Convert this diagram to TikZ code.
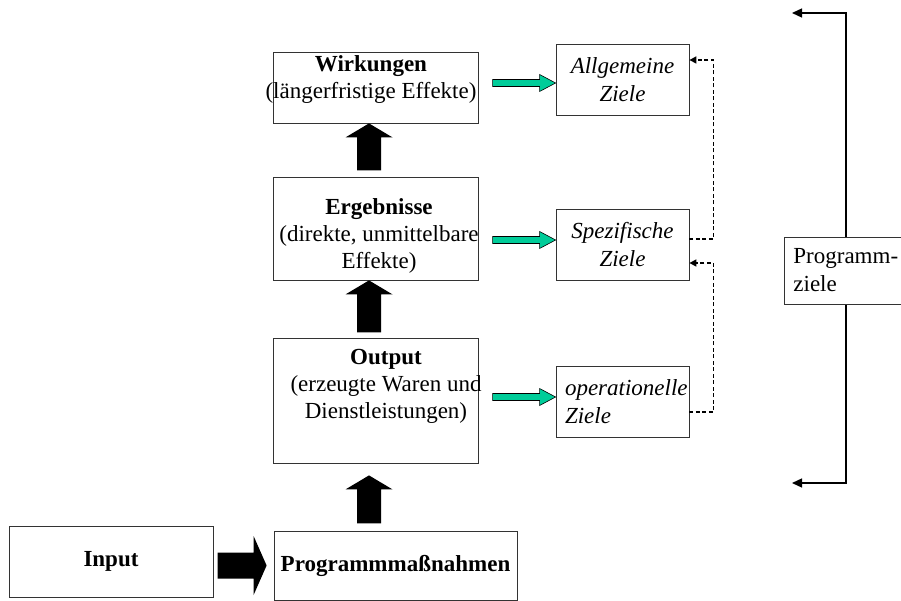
\documentclass[tikz,border=0pt]{standalone}
\usepackage{amsmath, amssymb, tikz, graphicx}
\usepackage{xcolor}
\usepackage{fontspec}
\setmainfont{Liberation Serif}
\usetikzlibrary{arrows.meta}
\definecolor{verde}{RGB}{0,204,153}

\begin{document}
\begin{tikzpicture}[x=1pt, y=-1pt,
    caja/.style={draw=black!80, line width=0.8pt, fill=white, inner sep=0pt},
    texto/.style={align=center, font=\fontsize{23}{27}\selectfont},
    ziel/.style={draw=black!80, line width=0.8pt, fill=white, minimum height=71pt, text width=115pt,
        inner xsep=9pt, inner ysep=0pt, font=\fontsize{23}{28}\selectfont\itshape},
    flecha/.style={fill=black},
    flechaverde/.style={draw=black, line width=0.6pt, fill=verde},
    punteada/.style={line width=1.6pt, dash pattern=on 4pt off 2.5pt, -{Triangle[length=7pt,width=7pt]}}]
    \useasboundingbox (0,0) rectangle (901,601);
    \clip (0,0) rectangle (901,601);

    % Cajas de la cadena
    \node[caja, minimum width=205pt, minimum height=71pt] (wirk) at (375.5,87.5) {};
    \node[caja, minimum width=205pt, minimum height=103pt] (ergeb) at (375.5,228.5) {};
    \node[caja, minimum width=205pt, minimum height=125pt] (outp) at (375.5,400.5) {};
    \node[caja, texto, minimum width=243pt, minimum height=69pt] (progr) at (395.5,565.5) {\bfseries Programmmaßnahmen};
    \node[caja, texto, minimum width=204pt, minimum height=71pt] (input) at (111,561.5) {\bfseries Input};

    % Textos de las cajas
    \node[texto] (wirkT) at (371,80) {\textbf{Wirkungen}\\(längerfristige Effekte)};
    \node[texto] (ergebT) at (379,236) {\textbf{Ergebnisse}\\(direkte, unmittelbare\\Effekte)};
    \node[texto] (outpT) at (386,386.5) {\textbf{Output}\\(erzeugte Waren und\\Dienstleistungen)};

    % Flechas negras
    \fill[flecha] ([xshift=-6.5pt]wirk.south) -- ++(23.5,14) -- ++(-11.5,0) -- ++(0,33) -- ++(-24,0) -- ++(0,-33) -- ++(-11.5,0) -- cycle;
    \fill[flecha] ([xshift=-6.5pt]ergeb.south) -- ++(23.5,14) -- ++(-11.5,0) -- ++(0,38) -- ++(-24,0) -- ++(0,-38) -- ++(-11.5,0) -- cycle;
    \fill[flecha] ([xshift=-6.5pt,yshift=-12pt]outp.south) -- ++(23.5,14) -- ++(-11.5,0) -- ++(0,34) -- ++(-24,0) -- ++(0,-34) -- ++(-11.5,0) -- cycle;
    \fill[flecha] ([xshift=-7pt]progr.west) -- ++(-13,-29.5) -- ++(0,16.5) -- ++(-36,0) -- ++(0,26) -- ++(36,0) -- ++(0,16.5) -- cycle;

    % Cajas de objetivos
    \node[ziel, align=center] (allg) at (622.5,80) {Allgemeine\\Ziele};
    \node[ziel, align=center] (spez) at (622.5,244.5) {Spezifische\\Ziele};
    \node[ziel, align=left] (oper) at (622.5,401.5) {operationelle\\Ziele};

    % Flechas verdes
    \filldraw[flechaverde] ([yshift=-3pt]allg.west) -- ++(-16,-8.5) -- ++(0,5) -- ++(-47,0) -- ++(0,7) -- ++(47,0) -- ++(0,5) -- cycle;
    \filldraw[flechaverde] ([yshift=4.5pt]spez.west) -- ++(-16,-8.5) -- ++(0,5) -- ++(-47,0) -- ++(0,7) -- ++(47,0) -- ++(0,5) -- cycle;
    \filldraw[flechaverde] ([yshift=4.5pt]oper.west) -- ++(-16,-8.5) -- ++(0,5) -- ++(-47,0) -- ++(0,7) -- ++(47,0) -- ++(0,5) -- cycle;

    % Flechas punteadas
    \draw[punteada] ([yshift=5.5pt]spez.east) -- ++(24,0) |- ([yshift=20pt]allg.east);
    \draw[punteada] ([yshift=-10.5pt]oper.east) -- ++(24,0) |- ([yshift=-18.5pt]spez.east);

    % Llave de los objetivos
    \coordinate (ptop) at (792,13);
    \coordinate (pbot) at (792,483);
    \draw[line width=1.4pt, {Triangle[length=10pt,width=9pt]}-{Triangle[length=10pt,width=9pt]}] (ptop) -- (846,13) -- (846,483) -- (pbot);
    \node[caja, anchor=west, minimum height=67pt, text width=110pt, inner xsep=9pt, align=left,
        font=\fontsize{23}{28}\selectfont] (pz) at (784,270.5) {Programm-\\ziele};

\end{tikzpicture}
\end{document}
